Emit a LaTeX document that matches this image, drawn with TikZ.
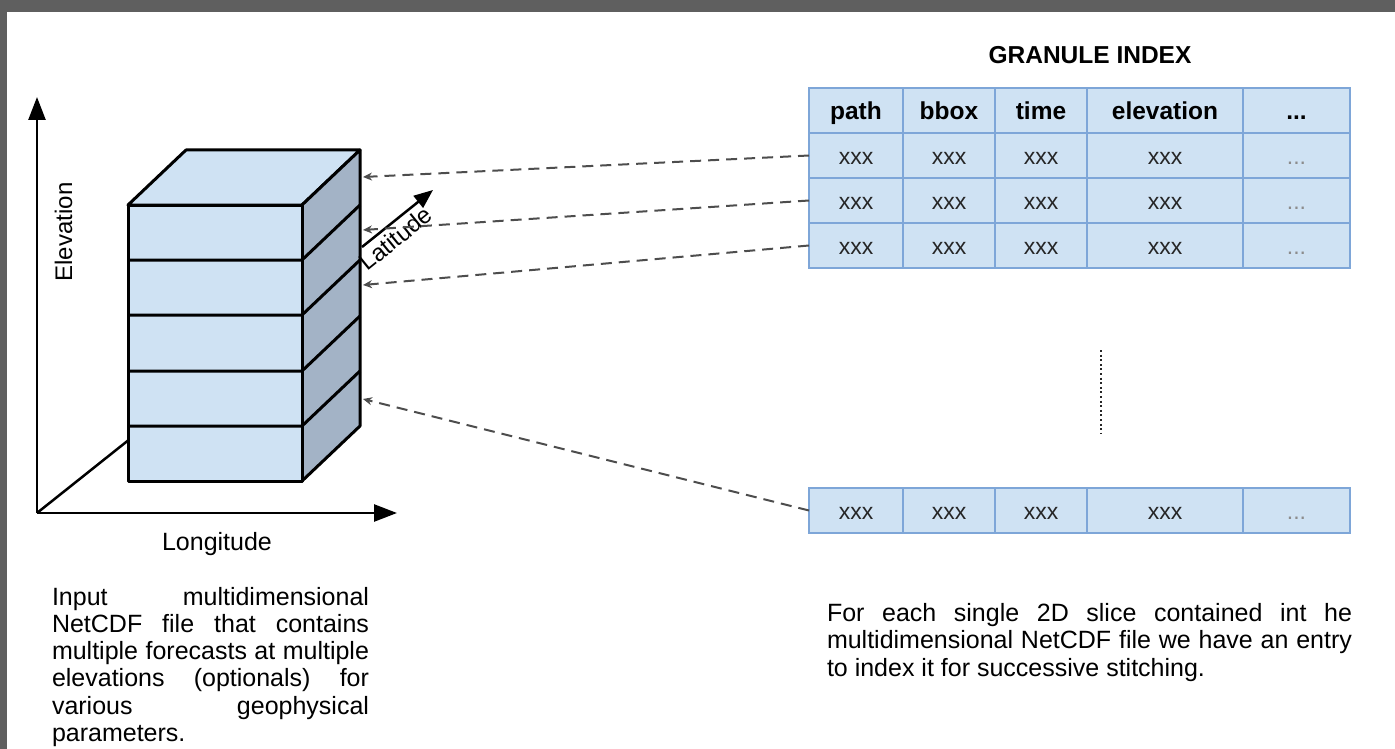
\documentclass[tikz,border=0pt]{standalone}
\usepackage{fontspec}
\setmainfont{Liberation Sans}
\usetikzlibrary{arrows.meta}

\definecolor{framegray}{HTML}{5F5F5F}
\definecolor{slab}{HTML}{CFE2F3}
\definecolor{slabside}{HTML}{A3B3C6}
\definecolor{cellfill}{HTML}{CFE2F3}
\definecolor{cellline}{HTML}{7EA6D8}
\definecolor{linkgray}{HTML}{4D4D4D}

\begin{document}
\begin{tikzpicture}[x=1pt,y=-1pt,
  every node/.style={inner sep=0pt, outer sep=0pt},
  txt/.style={font=\fontsize{25}{27.3}\selectfont},
  note/.style={txt, anchor=base west, align=justify,
    execute at begin node={\tolerance=10000\hyphenpenalty=10000}},
  headtext/.style={font=\fontsize{24.5}{28}\selectfont\bfseries, text=black},
  cell/.style={draw=cellline, fill=cellfill, line width=1.5pt, minimum height=45pt,
    text height=21pt, text depth=3pt, anchor=north west,
    font=\fontsize{23}{26}\selectfont, text=black!85},
  colpath/.style={cell, minimum width=94pt},
  colbbox/.style={cell, minimum width=92pt},
  coltime/.style={cell, minimum width=92pt},
  colelev/.style={cell, minimum width=156pt},
  colmore/.style={cell, minimum width=107pt},
  axisarrow/.style={line width=2.5pt, -{Triangle[length=23pt,width=17pt]}},
  blockline/.style={line width=3pt, line join=round},
  indexlink/.style={draw=linkgray, line width=2pt, dash pattern=on 11pt off 7pt,
    -{Stealth[length=9pt,width=8pt]}}]

\useasboundingbox[fill=white] (0,0) rectangle (1395,749);

% axes
\coordinate (origin) at (37,513);
\coordinate (elevtip) at (37,97);
\coordinate (longtip) at (397,513);
\draw[axisarrow] (origin) -- (elevtip);
\draw[axisarrow] (origin) -- (longtip);
\draw[line width=2.5pt] (origin) -- (150,423);

% the stacked block
\filldraw[blockline, fill=slab] (128,205) -- (186,150) -- (360,150) -- (302,205) -- cycle;
\filldraw[blockline, fill=slabside] (302,205) -- (360,150) -- (360,426) -- (302,481) -- cycle;
\filldraw[blockline, fill=slab] (128,205) rectangle (302,481);
\draw[blockline] (128,260) -- (302,260) -- (360,205);
\draw[blockline] (128,315) -- (302,315) -- (360,260);
\draw[blockline] (128,371) -- (302,371) -- (360,316);
\draw[blockline] (128,426) -- (302,426) -- (360,371);

% latitude axis
\coordinate (latfoot) at (362,247);
\coordinate (lattip) at (433,190);
\draw[line width=2.5pt, -{Triangle[length=19pt,width=15pt]}] (latfoot) -- (lattip);

\node[txt, rotate=90, anchor=base, font=\fontsize{24}{26}\selectfont] (elevlabel) at (72,232) {Elevation};
\node[txt, anchor=base] (longlabel) at (217,550) {Longitude};
\node[rotate=39, anchor=base, font=\fontsize{24}{26}\selectfont] (latlabel) at (401,245) {Latitude};

% index table
\node[headtext] (title) at (1090,55) {GRANULE INDEX};

\node[colpath, headtext] (h1) at (809,88) {path};
\node[colbbox, headtext] (h2) at (903,88) {bbox};
\node[coltime, headtext] (h3) at (995,88) {time};
\node[colelev, headtext] (h4) at (1087,88) {elevation};
\node[colmore, headtext] (h5) at (1243,88) {...};

\node[colpath] (r1a) at (809,133) {xxx};
\node[colbbox] (r1b) at (903,133) {xxx};
\node[coltime] (r1c) at (995,133) {xxx};
\node[colelev] (r1d) at (1087,133) {xxx};
\node[colmore, text=black!45] (r1e) at (1243,133) {...};

\node[colpath] (r2a) at (809,178) {xxx};
\node[colbbox] (r2b) at (903,178) {xxx};
\node[coltime] (r2c) at (995,178) {xxx};
\node[colelev] (r2d) at (1087,178) {xxx};
\node[colmore, text=black!45] (r2e) at (1243,178) {...};

\node[colpath] (r3a) at (809,223) {xxx};
\node[colbbox] (r3b) at (903,223) {xxx};
\node[coltime] (r3c) at (995,223) {xxx};
\node[colelev] (r3d) at (1087,223) {xxx};
\node[colmore, text=black!45] (r3e) at (1243,223) {...};

\draw[line width=2.5pt, dash pattern=on 2pt off 2.6pt, black!85] (1101,350) -- (1101,434);

\node[colpath] (r4a) at (809,488) {xxx};
\node[colbbox] (r4b) at (903,488) {xxx};
\node[coltime] (r4c) at (995,488) {xxx};
\node[colelev] (r4d) at (1087,488) {xxx};
\node[colmore, text=black!45] (r4e) at (1243,488) {...};

% entries pointing back to their slices
\coordinate (hit1) at (363,177);
\coordinate (hit2) at (363,230);
\coordinate (hit3) at (363,285);
\coordinate (hit4) at (363,399);
\draw[indexlink] (r1a.west) -- (hit1);
\draw[indexlink] (r2a.west) -- (hit2);
\draw[indexlink] (r3a.west) -- (hit3);
\draw[indexlink] (r4a.west) -- (hit4);

% notes
\node[note, text width=317pt] (leftnote) at (52,605) {Input multidimensional\linebreak
  NetCDF file that contains\linebreak multiple forecasts at multiple\linebreak
  elevations (optionals) for\linebreak various geophysical\linebreak parameters.};
\node[note, text width=525pt] (rightnote) at (827,621.5) {For each single 2D slice contained int he\linebreak
  multidimensional NetCDF file we have an entry\linebreak to index it for successive stitching.};

% frame
\fill[framegray] (0,0) rectangle (1395,12);
\fill[framegray] (0,0) rectangle (7,749);
\end{tikzpicture}
\end{document}
